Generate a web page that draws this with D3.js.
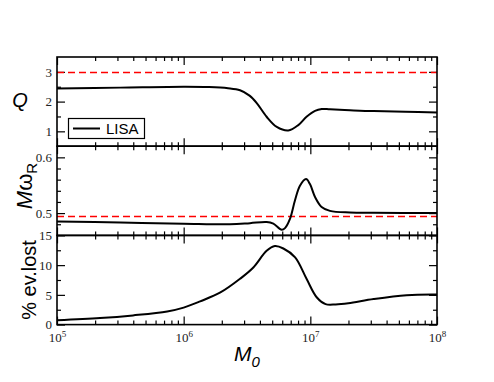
<!DOCTYPE html>
<html>
<head>
<meta charset="utf-8">
<script src="https://cdn.jsdelivr.net/npm/d3@7"></script>
<style>
  body { margin: 0; background: #fff; }
  svg { display: block; }
  .tick text { font-family: "Liberation Serif", "Times New Roman", serif; }
</style>
</head>
<body>
<svg id="chart"></svg>
<script>
// log10(M0) sample points and values
const qLogM = [5.0, 5.5, 6.0, 6.2, 6.35, 6.445, 6.52, 6.577, 6.655, 6.735, 6.826, 6.905, 6.97, 7.037, 7.09, 7.155, 7.313, 7.5, 7.75, 8.0];
const qVal  = [2.44, 2.47, 2.50, 2.49, 2.45, 2.38, 2.20, 1.95, 1.49, 1.15, 1.03, 1.21, 1.49, 1.69, 1.75, 1.74, 1.71, 1.68, 1.66, 1.63];
const qRef = 2.98;

const wLogM = [5.0, 5.5, 6.0, 6.366, 6.524, 6.655, 6.708, 6.774, 6.8, 6.84, 6.879, 6.918, 6.966, 6.997, 7.037, 7.089, 7.155, 7.313, 7.5, 8.0];
const wVal  = [0.485, 0.483, 0.481, 0.480, 0.482, 0.484, 0.481, 0.470, 0.473, 0.490, 0.523, 0.549, 0.561, 0.552, 0.529, 0.511, 0.504, 0.501, 0.5005, 0.500];
const wRef = 0.494;

const eLogM = [5.0, 5.34, 5.6, 5.87, 6.0, 6.13, 6.29, 6.445, 6.55, 6.655, 6.72, 6.787, 6.88, 6.97, 7.05, 7.12, 7.2, 7.3, 7.5, 7.76, 8.0];
const eVal  = [0.72, 1.1, 1.55, 2.2, 2.85, 3.9, 5.4, 7.7, 9.6, 12.4, 13.2, 12.8, 11.3, 7.7, 4.6, 3.45, 3.4, 3.6, 4.3, 4.95, 5.05];

const xMajor = [1e5, 1e6, 1e7, 1e8];
const xMinor = d3.range(5, 8).flatMap(e => d3.range(2, 10).map(m => m * 10 ** e));

const panels = [
  { logM: qLogM, val: qVal, ref: qRef, domain: [0.5, 3.5], major: [1, 2, 3], minor: [1.5, 2.5], fmt: d3.format('d') },
  { logM: wLogM, val: wVal, ref: wRef, domain: [0.46, 0.62], major: [0.5, 0.6], minor: [0.48, 0.52, 0.54, 0.56, 0.58], fmt: d3.format('.1f') },
  { logM: eLogM, val: eVal, ref: null, domain: [0, 15], major: [0, 5, 10, 15], minor: [2.5, 7.5, 12.5], fmt: d3.format('d') }
];

const W = 494, H = 382;
const plotLeft = 57, plotRight = 437, plotTop = 57, panelH = 89.2;

const svg = d3.select('#chart').attr('width', W).attr('height', H);

const x = d3.scaleLog().domain([1e5, 1e8]).range([plotLeft, plotRight]);

const sans = 'Liberation Sans, Arial, Helvetica, sans-serif';

function styleAxis(g) {
  g.select('.domain').remove();
  g.attr('font-family', null);
  g.selectAll('line').attr('stroke', '#000').attr('stroke-width', 1.2);
  g.selectAll('text').attr('font-size', '13px').attr('fill', '#222');
}

panels.forEach((p, i) => {
  const y0 = plotTop + i * panelH, y1 = y0 + panelH;
  const y = d3.scaleLinear().domain(p.domain).range([y1, y0]);
  const g = svg.append('g');

  // x ticks, bottom and top, pointing inward
  [[xMajor, 8], [xMinor, 4]].forEach(([vals, len]) => {
    g.append('g').attr('transform', `translate(0,${y1})`)
      .call(d3.axisBottom(x).tickValues(vals).tickSize(-len).tickFormat(''))
      .call(styleAxis);
    g.append('g').attr('transform', `translate(0,${y0})`)
      .call(d3.axisTop(x).tickValues(vals).tickSize(-len).tickFormat(''))
      .call(styleAxis);
  });

  // y ticks, left (labelled) and right
  g.append('g').attr('transform', `translate(${plotLeft},0)`)
    .call(d3.axisLeft(y).tickValues(p.major).tickSize(-8).tickPadding(5).tickFormat(p.fmt))
    .call(styleAxis);
  g.append('g').attr('transform', `translate(${plotLeft},0)`)
    .call(d3.axisLeft(y).tickValues(p.minor).tickSize(-4).tickFormat(''))
    .call(styleAxis);
  g.append('g').attr('transform', `translate(${plotRight},0)`)
    .call(d3.axisRight(y).tickValues(p.major).tickSize(-8).tickFormat(''))
    .call(styleAxis);
  g.append('g').attr('transform', `translate(${plotRight},0)`)
    .call(d3.axisRight(y).tickValues(p.minor).tickSize(-4).tickFormat(''))
    .call(styleAxis);

  // reference level
  if (p.ref !== null) {
    g.append('line')
      .attr('x1', plotLeft).attr('x2', plotRight)
      .attr('y1', y(p.ref)).attr('y2', y(p.ref))
      .attr('stroke', '#ff0000').attr('stroke-width', 1.4)
      .attr('stroke-dasharray', '7,4');
  }

  // curve
  const pts = p.logM.map((m, k) => [10 ** m, p.val[k]]);
  g.append('path')
    .datum(pts)
    .attr('fill', 'none')
    .attr('stroke', '#000')
    .attr('stroke-width', 2)
    .attr('d', d3.line().x(d => x(d[0])).y(d => y(d[1])).curve(d3.curveCatmullRom.alpha(0.5)));

  // frame
  g.append('rect')
    .attr('x', plotLeft).attr('y', y0)
    .attr('width', plotRight - plotLeft).attr('height', panelH)
    .attr('fill', 'none').attr('stroke', '#000').attr('stroke-width', 1.6);

  // x tick labels on the bottom panel
  if (i === panels.length - 1) {
    const ax = g.append('g').attr('transform', `translate(0,${y1})`)
      .call(d3.axisBottom(x).tickValues(xMajor).tickSize(0).tickPadding(8).tickFormat(d => Math.round(Math.log10(d))))
      .call(styleAxis);
    ax.selectAll('text').each(function (d) {
      const t = d3.select(this);
      const e = Math.round(Math.log10(d));
      t.text('');
      t.append('tspan').text('10');
      t.append('tspan').attr('dy', '-0.55em').attr('font-size', '9px').text(e);
    });
  }
});

// axis titles
svg.append('text')
  .attr('x', 20).attr('y', 107)
  .attr('text-anchor', 'middle')
  .attr('font-family', sans).attr('font-size', '20px').attr('font-style', 'italic')
  .text('Q');

const wt = svg.append('text')
  .attr('transform', 'translate(32,186) rotate(-90)')
  .attr('text-anchor', 'middle')
  .attr('font-family', sans).attr('font-size', '22px');
wt.append('tspan').attr('font-style', 'italic').text('M');
wt.append('tspan').text('ω');
wt.append('tspan').attr('font-size', '15px').attr('dy', '5').text('R');

svg.append('text')
  .attr('transform', 'translate(36,280) rotate(-90)')
  .attr('text-anchor', 'middle')
  .attr('font-family', sans).attr('font-size', '20px')
  .text('% ev.lost');

const xt = svg.append('text')
  .attr('x', 247).attr('y', 361)
  .attr('text-anchor', 'middle')
  .attr('font-family', sans).attr('font-size', '21px').attr('font-style', 'italic');
xt.append('tspan').text('M');
xt.append('tspan').attr('font-size', '15px').attr('dy', '6').text('0');

// legend
const lg = svg.append('g');
lg.append('rect')
  .attr('x', 68.5).attr('y', 118.5).attr('width', 76).attr('height', 20)
  .attr('fill', '#fff').attr('stroke', '#000').attr('stroke-width', 1.2);
lg.append('line')
  .attr('x1', 73).attr('x2', 100).attr('y1', 128.5).attr('y2', 128.5)
  .attr('stroke', '#000').attr('stroke-width', 2);
lg.append('text')
  .attr('x', 106).attr('y', 134)
  .attr('font-family', sans).attr('font-size', '15px')
  .text('LISA');
</script>
</body>
</html>
